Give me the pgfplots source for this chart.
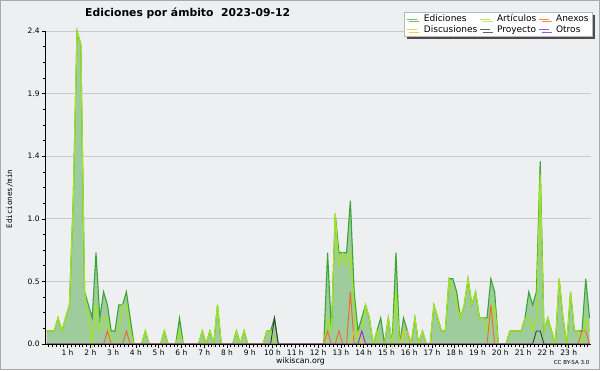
\documentclass[border=0pt]{standalone}
\usepackage{fontspec}
\setmainfont{DejaVu Sans}
\newfontfamily\monofont{DejaVu Sans Mono}
\usepackage{pgfplots}
\pgfplotsset{compat=1.18}
\usepackage{pgfplotstable}
\usetikzlibrary{shadows}

\definecolor{bg}{RGB}{238,239,240}
\definecolor{bordc}{RGB}{170,170,170}
\definecolor{edfill}{RGB}{158,204,156}
\definecolor{edline}{RGB}{55,165,55}
\definecolor{artline}{RGB}{165,230,25}
\definecolor{anxline}{RGB}{238,105,35}
\definecolor{discline}{RGB}{240,195,40}
\definecolor{proyline}{RGB}{55,60,55}
\definecolor{otrline}{RGB}{135,45,230}
\definecolor{gridc}{RGB}{202,202,202}

\pgfplotstableread{
i ed art anx disc proy otr
0 0.1 0.1 0 0 0 0
1 0.1 0.1 0 0 0 0
2 0.1 0.1 0 0 0 0
3 0.2 0.2 0 0 0 0
4 0.1 0.1 0 0 0 0
5 0.2 0.2 0 0 0 0
6 0.3 0.3 0 0 0 0
7 1.1 1.1 0 0 0 0
8 2.4 2.4 0 0 0 0
9 2.3 2.3 0 0 0 0
10 0.4 0.4 0 0 0 0
11 0.3 0.2 0 0 0 0
12 0.2 0.0 0 0 0 0
13 0.7 0.3 0 0 0 0
14 0.2 0.1 0 0 0 0
15 0.4 0.2 0 0 0 0
16 0.3 0.2 0.1 0 0 0
17 0.1 0.0 0 0 0 0
18 0.1 0.0 0 0 0 0
19 0.3 0.1 0 0 0 0
20 0.3 0.3 0 0 0 0
21 0.4 0.3 0.1 0 0 0
22 0.2 0.1 0 0 0 0
23 0 0 0 0 0 0
24 0 0 0 0 0 0
25 0 0 0 0 0 0
26 0.1 0.1 0 0 0 0
27 0 0 0 0 0 0
28 0 0 0 0 0 0
29 0 0 0 0 0 0
30 0 0 0 0 0 0
31 0.1 0.1 0 0 0 0
32 0 0 0 0 0 0
33 0 0 0 0 0 0
34 0 0 0 0 0 0
35 0.2 0.1 0 0 0 0
36 0 0 0 0 0 0
37 0 0 0 0 0 0
38 0 0 0 0 0 0
39 0 0 0 0 0 0
40 0 0 0 0 0 0
41 0.1 0.1 0 0 0 0
42 0 0 0 0 0 0
43 0.1 0.1 0 0 0 0
44 0 0 0 0 0 0
45 0.3 0.3 0 0 0 0
46 0 0 0 0 0 0
47 0 0 0 0 0 0
48 0 0 0 0 0 0
49 0 0 0 0 0 0
50 0.1 0.1 0 0 0 0
51 0 0 0 0 0 0
52 0.1 0.1 0 0 0 0
53 0 0 0 0 0 0
54 0 0 0 0 0 0
55 0 0 0 0 0 0
56 0 0 0 0 0 0
57 0 0 0 0 0 0
58 0.1 0.1 0 0 0 0
59 0.1 0.1 0 0 0 0
60 0.2 0.0 0 0 0.2 0
61 0 0 0 0 0 0
62 0 0 0 0 0 0
63 0 0 0 0 0 0
64 0 0 0 0 0 0
65 0 0 0 0 0 0
66 0 0 0 0 0 0
67 0 0 0 0 0 0
68 0 0 0 0 0 0
69 0 0 0 0 0 0
70 0 0 0 0 0 0
71 0 0 0 0 0 0
72 0 0 0 0 0 0
73 0 0 0 0 0 0
74 0.7 0.2 0.1 0 0 0
75 0.1 0.1 0 0 0 0
76 1.0 1.0 0 0 0 0
77 0.7 0.6 0.1 0 0 0
78 0.7 0.7 0 0 0 0
79 0.7 0.6 0 0 0 0
80 1.1 0.7 0.4 0 0 0
81 0.4 0.3 0 0.1 0 0
82 0.1 0.0 0 0.1 0 0
83 0.2 0.1 0 0 0 0.1
84 0.3 0.3 0 0 0 0
85 0.2 0.2 0 0 0 0
86 0 0 0 0 0 0
87 0.1 0.1 0 0 0 0
88 0.2 0.0 0 0 0 0
89 0 0 0 0 0 0
90 0.2 0.2 0 0 0 0
91 0 0 0 0 0 0
92 0.7 0.4 0 0 0 0
93 0 0 0 0 0 0
94 0.2 0.1 0 0.1 0 0
95 0.1 0.0 0 0.1 0 0
96 0 0 0 0 0 0
97 0.2 0.2 0 0 0 0
98 0 0 0 0 0 0
99 0.1 0.1 0 0 0 0
100 0 0 0 0 0 0
101 0 0 0 0 0 0
102 0.3 0.3 0 0 0 0
103 0.2 0.2 0 0 0 0
104 0.1 0.1 0 0 0 0
105 0.1 0.1 0 0 0 0
106 0.5 0.5 0 0 0 0
107 0.5 0.4 0 0 0 0
108 0.4 0.3 0 0 0 0
109 0.2 0.2 0 0 0 0
110 0.3 0.3 0 0 0 0
111 0.5 0.5 0 0 0 0
112 0.3 0.3 0 0 0 0
113 0.4 0.4 0 0 0 0
114 0.2 0.2 0 0 0 0
115 0.2 0.2 0 0 0 0
116 0.2 0.1 0 0 0 0
117 0.5 0.2 0.3 0 0 0
118 0.4 0.3 0 0 0 0
119 0 0 0 0 0 0
120 0 0 0 0 0 0
121 0 0 0 0 0 0
122 0.1 0.1 0 0 0 0
123 0.1 0.1 0 0 0 0
124 0.1 0.1 0 0 0 0
125 0.1 0.1 0 0 0 0
126 0.2 0.2 0 0 0 0
127 0.4 0.2 0 0 0 0
128 0.3 0.1 0 0 0 0
129 0.4 0.2 0 0 0.1 0
130 1.4 1.3 0 0 0.1 0
131 0.1 0.1 0 0 0 0
132 0.2 0.2 0 0 0 0
133 0.1 0.1 0 0 0 0
134 0 0 0 0 0 0
135 0.5 0.5 0 0 0 0
136 0.2 0.2 0 0 0 0
137 0 0 0 0 0 0
138 0.4 0.4 0 0 0 0
139 0.1 0.1 0 0 0 0
140 0.1 0.1 0 0 0 0
141 0.1 0.0 0.1 0 0 0
142 0.5 0.2 0.1 0 0 0
143 0.2 0.1 0 0 0 0
}\datatab

\begin{document}
\begin{tikzpicture}[x=1pt,y=1pt]
\path[use as bounding box] (0,0) rectangle (600,370);
\path[fill=bg, draw=bordc, line width=1pt] (0.5,0.5) rectangle (599.5,369.5);

\begin{axis}[
  at={(45.7pt,26pt)}, anchor=south west, scale only axis,
  width=544.8pt, height=313pt,
  xmin=-0.25, xmax=143.25, ymin=0, ymax=2.4,
  axis lines*=left,
  axis line style={black, line width=0.8pt},
  clip=false,
  xtick={5.5,11.5,17.5,23.5,29.5,35.5,41.5,47.5,53.5,59.5,65.5,71.5,77.5,83.5,89.5,95.5,101.5,107.5,113.5,119.5,125.5,131.5,137.5},
  xticklabels={1 h,2 h,3 h,4 h,5 h,6 h,7 h,8 h,9 h,10 h,11 h,12 h,13 h,14 h,15 h,16 h,17 h,18 h,19 h,20 h,21 h,22 h,23 h},
  minor xtick={0.5,1.5,...,142.5},
  ytick={0,0.48,0.96,1.44,1.92,2.4},
  yticklabels={0.0,0.5,1.0,1.4,1.9,2.4},
  minor ytick={0.12,0.24,0.36,0.6,0.72,0.84,1.08,1.2,1.32,1.56,1.68,1.8,2.04,2.16,2.28},
  ymajorgrids,
  major grid style={gridc, line width=0.8pt},
  tick align=outside,
  major tick length=3.5pt, minor tick length=3pt,
  x tick style={black, line width=0.6pt},
  y tick style={black, line width=0.6pt},
  tick label style={font=\fontsize{7.5}{8}\selectfont},
  xticklabel style={yshift=1pt},
  yticklabel style={xshift=1pt},
  /pgf/number format/assume math mode=true,
  legend columns=3,
  legend cell align=left,
  legend image code/.code={\draw[#1, line width=0.8pt] (0pt,0pt) -- (10pt,0pt); \path (14pt,0pt);},
  legend style={at={(1.0046,1.0617)}, anchor=north east,
    fill=white, draw=gray!55, line width=0.8pt,
    font=\fontsize{9}{9}\selectfont,
    inner xsep=2.5pt, inner ysep=2.5pt, row sep=1pt,
    nodes={inner xsep=1.5pt, inner ysep=0.5pt, text height=6.6pt, text depth=1.8pt},
    /tikz/every even column/.append style={column sep=1pt},
    /tikz/every odd column/.append style={column sep=1pt},
    drop shadow={shadow xshift=2.5pt, shadow yshift=-2.5pt, fill=gray!60!black, opacity=1}},
]
\addlegendimage{edline!70!white}
\addlegendentry{Ediciones}
\addlegendimage{artline!70!white}
\addlegendentry{Artículos}
\addlegendimage{anxline!80!white}
\addlegendentry{Anexos}
\addlegendimage{discline!80!white}
\addlegendentry{Discusiones}
\addlegendimage{proyline!80!white}
\addlegendentry{Proyecto}
\addlegendimage{otrline!80!white}
\addlegendentry{Otros}

\addplot[fill=edfill, draw=none, forget plot] table[x=i, y=ed] {\datatab} \closedcycle;
\addplot[edline, line width=1.1pt, forget plot] table[x=i, y=ed] {\datatab};
\addplot[artline, line width=1.1pt, forget plot] table[x=i, y=art] {\datatab};
\addplot[anxline, line width=0.9pt, forget plot] table[x=i, y=anx] {\datatab};
\addplot[discline, line width=0.9pt, forget plot] table[x=i, y=disc] {\datatab};
\addplot[proyline, line width=0.9pt, forget plot] table[x=i, y=proy] {\datatab};
\addplot[otrline, line width=0.9pt, forget plot] table[x=i, y=otr] {\datatab};
\draw[black, line width=0.8pt] (rel axis cs:0,0) -- (rel axis cs:1,0);
\end{axis}

\node[anchor=base west, inner sep=0pt, font=\fontsize{10.8}{12}\selectfont\bfseries] at (85,353.3) {Ediciones por ámbito\ \ 2023-09-12};
\node[rotate=90, inner sep=0pt, font=\monofont\fontsize{7.5}{8}\selectfont] at (9.5,171) {Ediciones/min};
\node[inner sep=0pt, font=\fontsize{7.8}{8}\selectfont] at (300.5,9) {wikiscan.org};
\node[anchor=east, inner sep=0pt, font=\fontsize{5.5}{6}\selectfont] at (589.5,7.7) {CC BY-SA 3.0};
\end{tikzpicture}
\end{document}
